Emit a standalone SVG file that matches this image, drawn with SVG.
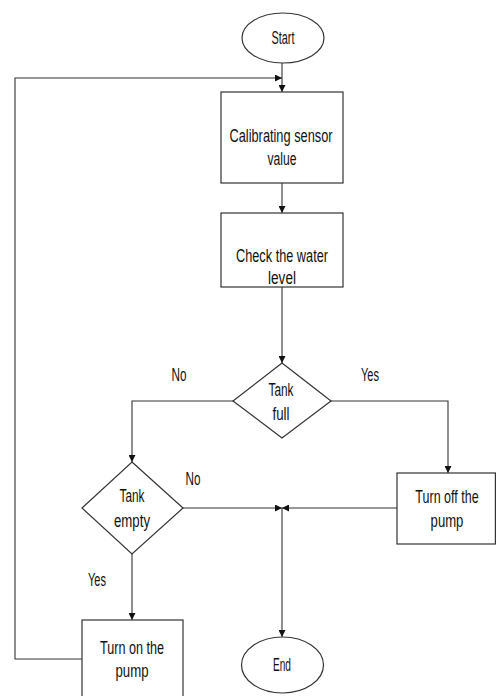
<svg xmlns="http://www.w3.org/2000/svg" width="496" height="696" viewBox="0 0 496 696">
<style>
.s{fill:#fff;stroke:#333;stroke-width:1.2}
.c{fill:none;stroke:#333;stroke-width:1.1}
text{font-family:"Liberation Sans",Arial,sans-serif;font-size:17.5px;fill:#111;text-anchor:middle}
</style>
<defs>
<marker id="a" viewBox="0 0 10 10" refX="10" refY="5" markerWidth="7" markerHeight="7" markerUnits="userSpaceOnUse" orient="auto">
<path d="M0,0L10,5L0,10z" fill="#111"/>
</marker>
</defs>
<g id="connectors">
<path class="c" d="M282,63V92" marker-end="url(#a)"/>
<path class="c" d="M82,659H15V78H282" marker-end="url(#a)"/>
<path class="c" d="M282,183V213" marker-end="url(#a)"/>
<path class="c" d="M282,287V363" marker-end="url(#a)"/>
<path class="c" d="M233,401H132V462" marker-end="url(#a)"/>
<path class="c" d="M331,401H448V473" marker-end="url(#a)"/>
<path class="c" d="M183,508H282" marker-end="url(#a)"/>
<path class="c" d="M397,508H282" marker-end="url(#a)"/>
<path class="c" d="M282,508V637" marker-end="url(#a)"/>
<path class="c" d="M132,554V620" marker-end="url(#a)"/>
<text x="179" y="381" textLength="15" lengthAdjust="spacingAndGlyphs">No</text>
<text x="370" y="381" textLength="18" lengthAdjust="spacingAndGlyphs">Yes</text>
<text x="193" y="485" textLength="15" lengthAdjust="spacingAndGlyphs">No</text>
<text x="97" y="586" textLength="18" lengthAdjust="spacingAndGlyphs">Yes</text>
</g>
<g id="start">
<ellipse class="s" cx="283" cy="38" rx="41" ry="25"/>
<text x="283" y="44" textLength="23" lengthAdjust="spacingAndGlyphs">Start</text>
</g>
<g id="calibrate">
<rect class="s" x="221" y="92" width="122" height="91"/>
<text x="281" y="142" textLength="103" lengthAdjust="spacingAndGlyphs">Calibrating sensor</text>
<text x="282" y="165" textLength="29" lengthAdjust="spacingAndGlyphs">value</text>
</g>
<g id="check">
<rect class="s" x="221" y="213" width="122" height="74"/>
<text x="282" y="262" textLength="92" lengthAdjust="spacingAndGlyphs">Check the water</text>
<text x="282" y="284" textLength="28" lengthAdjust="spacingAndGlyphs">level</text>
</g>
<g id="tankfull">
<path class="s" d="M282,363L331,401L282,438L233,401z"/>
<text x="281" y="396" textLength="25" lengthAdjust="spacingAndGlyphs">Tank</text>
<text x="281" y="420" textLength="17" lengthAdjust="spacingAndGlyphs">full</text>
</g>
<g id="tankempty">
<path class="s" d="M132,462L183,508L132,554L82,508z"/>
<text x="132" y="502" textLength="25" lengthAdjust="spacingAndGlyphs">Tank</text>
<text x="132" y="527" textLength="36" lengthAdjust="spacingAndGlyphs">empty</text>
</g>
<g id="turnoff">
<rect class="s" x="397" y="473" width="98.4" height="71"/>
<text transform="translate(447,503) scale(0.715,1)">Turn off the</text>
<text transform="translate(447,527) scale(0.75,1)">pump</text>
</g>
<g id="turnon">
<rect class="s" x="82" y="620" width="101" height="80"/>
<text x="132" y="654" textLength="64" lengthAdjust="spacingAndGlyphs">Turn on the</text>
<text x="132" y="677" textLength="33" lengthAdjust="spacingAndGlyphs">pump</text>
</g>
<g id="end">
<ellipse class="s" cx="282.5" cy="665" rx="41" ry="28"/>
<text x="282" y="671" textLength="18" lengthAdjust="spacingAndGlyphs">End</text>
</g>
</svg>
